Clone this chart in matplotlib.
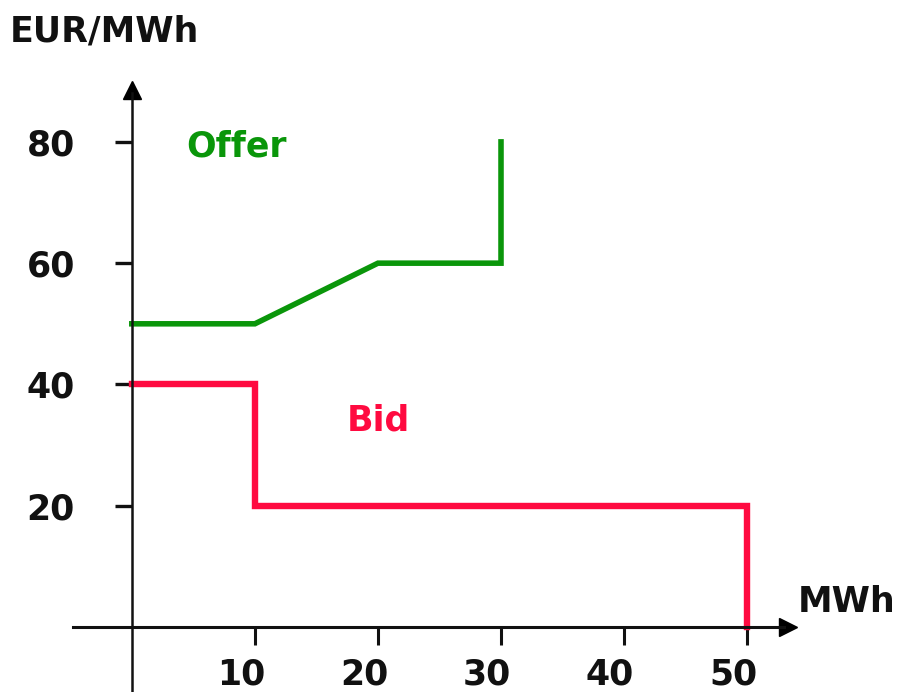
import matplotlib.pyplot as plt
import matplotlib.transforms as mtransforms

# Offer curve (supply) and bid curve (demand)
offer_mwh = [0, 10, 20, 30, 30]
offer_price = [50, 50, 60, 60, 80]
bid_mwh = [0, 10, 10, 50, 50]
bid_price = [40, 40, 20, 20, 0]

x_ticks = [10, 20, 30, 40, 50]
y_ticks = [20, 40, 60, 80]

GREEN = '#0a960a'
RED = '#ff0a40'
FONT = 'DejaVu Sans'
FS = 25

fig = plt.figure(figsize=(8.99, 6.92), dpi=100)
ax = fig.add_axes([0, 0, 1, 1])
ax.set_xlim(-10.71, 62.34)
ax.set_ylim(-10.72, 103.4)

# Curves
ax.plot(offer_mwh, offer_price, color=GREEN, lw=4.0, solid_joinstyle='miter')
ax.plot(bid_mwh, bid_price, color=RED, lw=4.6, solid_joinstyle='miter')

# Axes through the origin
for side in ['top', 'right']:
    ax.spines[side].set_visible(False)
ax.spines['left'].set_position(('data', 0))
ax.spines['bottom'].set_position(('data', 0))
ax.spines['left'].set_bounds(-11, 88)
ax.spines['bottom'].set_bounds(-4.8, 53)
ax.spines['left'].set_linewidth(1.8)
ax.spines['bottom'].set_linewidth(2.2)
ax.spines['left'].set_color('#111111')
ax.spines['bottom'].set_color('#111111')
ax.set_facecolor('none')

# Arrow heads
ax.plot([53.3], [0], marker='>', color='black', markersize=13, clip_on=False)
ax.plot([0], [88.6], marker='^', color='black', markersize=13, clip_on=False)

ax.set_xticks(x_ticks)
ax.set_yticks(y_ticks)
ax.set_xticklabels([str(v) for v in x_ticks], fontsize=FS, fontweight='bold', family=FONT)
ax.set_yticklabels([str(v) for v in y_ticks], fontsize=FS, fontweight='bold', family=FONT)
ax.tick_params(axis='x', direction='out', length=13, width=2.2, pad=9, colors='#111111')
ax.tick_params(axis='y', direction='out', length=12, width=2.4, pad=29, colors='#111111')

# shift x tick labels a little to the left, like the original
shift = mtransforms.ScaledTranslation(-14 / 100, 0, fig.dpi_scale_trans)
for lab in ax.get_xticklabels():
    lab.set_transform(lab.get_transform() + shift)

# Labels
ax.text(-9.9, 98.2, 'EUR/MWh', fontsize=FS, fontweight='bold', family=FONT,
        ha='left', va='center', color='#111111')
ax.text(54.1, 4.1, 'MWh', fontsize=FS, fontweight='bold', family=FONT,
        ha='left', va='center', color='#111111')
ax.text(4.4, 79.2, 'Offer', fontsize=FS, fontweight='bold', family=FONT,
        ha='left', va='center', color=GREEN)
ax.text(17.5, 34, 'Bid', fontsize=FS, fontweight='bold', family=FONT,
        ha='left', va='center', color=RED)

fig.savefig('out.png', dpi=100)
